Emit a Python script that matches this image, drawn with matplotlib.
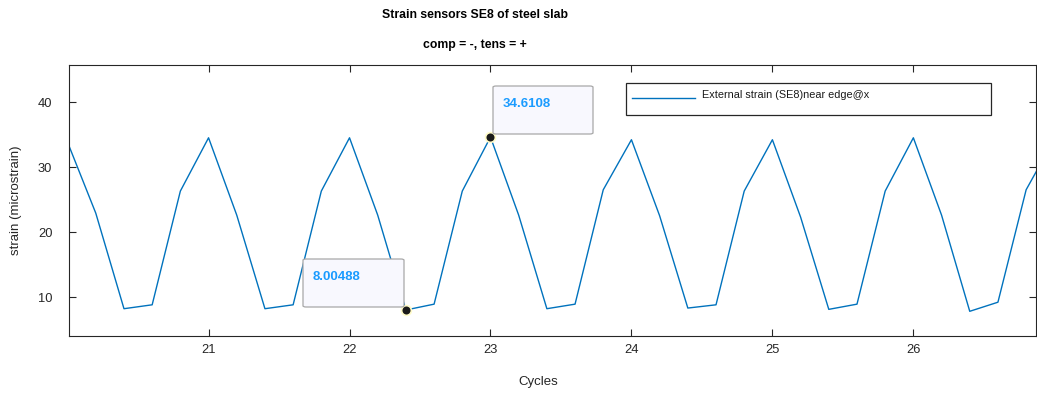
import numpy as np
import matplotlib.pyplot as plt
from matplotlib.patches import FancyBboxPatch, Rectangle
from matplotlib.lines import Line2D

plt.rcParams['font.family'] = ['Liberation Sans', 'DejaVu Sans']

# strain sampled every 0.2 cycles
cycles = [20.0, 20.2, 20.4, 20.6, 20.8,
          21.0, 21.2, 21.4, 21.6, 21.8,
          22.0, 22.2, 22.4, 22.6, 22.8,
          23.0, 23.2, 23.4, 23.6, 23.8,
          24.0, 24.2, 24.4, 24.6, 24.8,
          25.0, 25.2, 25.4, 25.6, 25.8,
          26.0, 26.2, 26.4, 26.6, 26.8, 27.0]
strain = [33.8, 22.9, 8.2, 8.8, 26.3,
          34.5, 22.6, 8.2, 8.8, 26.3,
          34.5, 22.6, 8.00488, 8.9, 26.3,
          34.6108, 22.6, 8.2, 8.9, 26.5,
          34.2, 22.5, 8.3, 8.8, 26.3,
          34.2, 22.3, 8.1, 8.9, 26.3,
          34.5, 22.6, 7.8, 9.2, 26.5, 34.3]

tipX = [22.4, 23.0]
tipY = [8.00488, 34.6108]
tipLabels = ["8.00488", "34.6108"]
legendLabel = "External strain (SE8)near edge@x"

W, H = 1037, 399
fig = plt.figure(figsize=(W / 100, H / 100), dpi=100)
ax = fig.add_axes([69 / W, 1 - 336 / H, (1036 - 69) / W, (336 - 65) / H])

ax.plot(cycles, strain, color="#0072BD", lw=1.0)
ax.set_xlim(20.01, 26.87)
ax.set_ylim(4.0, 45.7)
ax.set_xticks([21, 22, 23, 24, 25, 26])
ax.set_yticks([10, 20, 30, 40])
ax.tick_params(direction="in", top=True, right=True, length=5, width=0.8,
               labelsize=9.3, colors="#262626")
ax.tick_params(axis="x", pad=6)
ax.tick_params(axis="y", pad=12)
for s in ax.spines.values():
    s.set_color("#262626")
    s.set_linewidth(0.8)

ax.set_xlabel("Cycles", fontsize=9.5, color="#262626")
ax.xaxis.set_label_coords((538 - 69) / (1036 - 69), -(382 - 336) / (336 - 65))
ax.set_ylabel("strain (microstrain)", fontsize=9.5, color="#262626")
ax.yaxis.set_label_coords(-(69 - 16) / (1036 - 69), 0.5)
ax.xaxis.label.set_va("center")
ax.yaxis.label.set_va("center")

fig.text(475 / W, 1 - 15 / H, "Strain sensors SE8 of steel slab", ha="center",
         va="center", fontsize=8.8, fontweight="bold")
fig.text(475 / W, 1 - 45 / H, "comp = -, tens = +", ha="center",
         va="center", fontsize=8.8, fontweight="bold")

# data tips
ax.plot(tipX, tipY, "o", ms=7, mfc="#1a1a1a", mec="#fffbc8", mew=1.2,
        zorder=5, clip_on=False)
boxes = [(303, 259, 404, 307), (493, 86, 593, 134)]
for (x0, y0, x1, y1), lab in zip(boxes, tipLabels):
    rect = FancyBboxPatch((x0 / W, 1 - y1 / H), (x1 - x0) / W, (y1 - y0) / H,
                          boxstyle="round,pad=0,rounding_size=0.003",
                          transform=fig.transFigure, facecolor="#f8f8fe",
                          edgecolor="#a8a8a8", lw=0.9, zorder=4)
    fig.add_artist(rect)
    fig.text((x0 + 10) / W, 1 - (y0 + 18) / H, lab, ha="left", va="center",
             fontsize=9.5, fontweight="bold", color="#1a9bff", zorder=6)

# legend box drawn to the reference size
fig.add_artist(Rectangle((626 / W, 1 - 115 / H), (991 - 626) / W, (115 - 83) / H,
                         transform=fig.transFigure, facecolor="white",
                         edgecolor="#262626", lw=0.9, zorder=4))
fig.add_artist(Line2D([632 / W, 695 / W], [1 - 98 / H, 1 - 98 / H],
                      transform=fig.transFigure, color="#0072BD", lw=1.0, zorder=5))
fig.text(702 / W, 1 - 95 / H, legendLabel, ha="left", va="center",
         fontsize=7.8, color="#1a1a1a", zorder=6)

fig.savefig("out.png", dpi=100)
